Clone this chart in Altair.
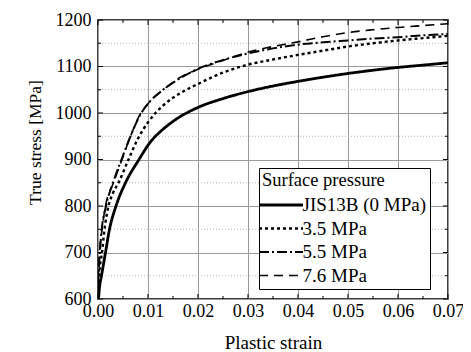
import altair as alt
import pandas as pd

# ---- data ----
series = ["JIS13B (0 MPa)", "3.5 MPa", "5.5 MPa", "7.6 MPa"]

jis_strain = [0.0001, 0.0003, 0.0007, 0.0015, 0.0023, 0.0036, 0.0055, 0.0082, 0.0105, 0.013, 0.015, 0.02,
              0.025, 0.03, 0.035, 0.04, 0.045, 0.05, 0.055, 0.06, 0.065, 0.07]
jis_stress = [600, 625, 650, 700, 750, 800, 850, 900, 938, 965, 982, 1012,
              1031, 1046, 1058, 1068, 1077, 1085, 1092, 1098, 1103, 1108]

p35_strain = [0.0, 0.0003, 0.0008, 0.0013, 0.0021, 0.003, 0.0041, 0.0061, 0.008, 0.01, 0.0115, 0.013, 0.0165,
              0.0203, 0.025, 0.03, 0.035, 0.04, 0.045, 0.05, 0.055, 0.06, 0.065, 0.07]
p35_stress = [610, 660, 700, 750, 800, 828, 850, 900, 945, 980, 1000, 1016, 1043,
              1064, 1087, 1104, 1115, 1125, 1134, 1143, 1150, 1156, 1161, 1166]

p55_strain = [0.0, 0.0003, 0.0007, 0.0016, 0.003, 0.0047, 0.0065, 0.0085, 0.01, 0.013, 0.016, 0.02,
              0.025, 0.03, 0.035, 0.04, 0.045, 0.05, 0.055, 0.06, 0.065, 0.07]
p55_stress = [630, 690, 745, 800, 850, 900, 950, 997, 1020, 1050, 1072, 1095,
              1114, 1128, 1139, 1147, 1152, 1156, 1160, 1163, 1167, 1170]

p76_strain = [0.0, 0.0003, 0.0008, 0.0015, 0.0031, 0.0048, 0.0065, 0.0083, 0.01, 0.0131, 0.016, 0.02,
              0.025, 0.03, 0.035, 0.04, 0.045, 0.05, 0.055, 0.06, 0.065, 0.07]
p76_stress = [640, 700, 750, 800, 850, 900, 950, 995, 1020, 1050, 1074, 1094,
              1113, 1131, 1143, 1153, 1164, 1173, 1179, 1184, 1188, 1192]

x_major = [0.0, 0.01, 0.02, 0.03, 0.04, 0.05, 0.06, 0.07]
x_minor = [0.005, 0.015, 0.025, 0.035, 0.045, 0.055, 0.065]
y_major = [600, 700, 800, 900, 1000, 1100, 1200]
y_minor = [650, 750, 850, 950, 1050, 1150]

# ---- build table ----
rows = []
for name, xs, ys in zip(series,
                        [jis_strain, p35_strain, p55_strain, p76_strain],
                        [jis_stress, p35_stress, p55_stress, p76_stress]):
    for i, (a, b) in enumerate(zip(xs, ys)):
        rows.append({"series": name, "strain": a, "stress": b, "order": i})
df = pd.DataFrame(rows)

W, H = 350, 279
FONT = "Liberation Serif"
xsc = alt.Scale(domain=[0, 0.07], nice=False, zero=False)
ysc = alt.Scale(domain=[600, 1200], nice=False, zero=False)

xaxis = alt.Axis(
    values=x_major, format=".2f", grid=True, gridColor="#9a9a9a", gridWidth=1,
    ticks=False, domain=False, labelFont=FONT, labelFontSize=18, labelColor="black",
    labelPadding=3, labelFlush=False, title="Plastic strain", titleFont=FONT,
    titleFontSize=19, titleFontWeight="normal", titleColor="black",
    titleY=49, titleBaseline="alphabetic")
yaxis = alt.Axis(
    values=y_major, format="d", grid=True, gridColor="#9a9a9a", gridWidth=1,
    ticks=False, domain=False, labelFont=FONT, labelFontSize=18, labelColor="black",
    labelPadding=7, labelFlush=False, title="True stress [MPa]", titleFont=FONT,
    titleFontSize=17.5, titleFontWeight="normal", titleColor="black",
    titleX=-63, titleY=122, titleBaseline="middle", titleAlign="center")

minor_grid = alt.Chart(pd.DataFrame({"v": y_minor})).mark_rule(
    color="#b5b5b5", strokeDash=[1, 2], strokeWidth=1
).encode(y=alt.Y("v:Q", scale=ysc, axis=yaxis))

legend = alt.Legend(
    title="Surface pressure", orient="none", legendX=161, legendY=148,
    fillColor="white", strokeColor="black", padding=3,
    symbolType="M-4,0H4", symbolSize=121, symbolStrokeColor="black",
    symbolFillColor="transparent", symbolOffset=9.5,
    labelFont=FONT, labelFontSize=19, titleFont=FONT, titleFontSize=18.5,
    titleFontWeight="normal", titleColor="black", labelColor="black",
    rowPadding=3.5, labelOffset=12, titlePadding=6, labelLimit=300,
)

lines = alt.Chart(df).mark_line(color="black", interpolate="monotone", clip=True).encode(
    x=alt.X("strain:Q", scale=xsc, axis=xaxis),
    y=alt.Y("stress:Q", scale=ysc, axis=yaxis),
    strokeDash=alt.StrokeDash("series:N", scale=alt.Scale(
        domain=series, range=[[1, 0], [3, 3], [10, 3, 2, 3], [9, 6]]), legend=legend),
    strokeWidth=alt.StrokeWidth("series:N", scale=alt.Scale(
        domain=series, range=[2.8, 1.6, 1.6, 1.6]), legend=legend),
    order="order:Q",
)


def xticks(vals, length, top):
    d = pd.DataFrame({"v": vals})
    if top:
        y0, y1 = 0, length
    else:
        y0, y1 = H, H - length
    return alt.Chart(d).mark_rule(color="black", strokeWidth=1).encode(
        x=alt.X("v:Q", scale=xsc, axis=xaxis), y=alt.value(y0), y2=alt.value(y1))


def yticks(vals, length, right):
    d = pd.DataFrame({"v": vals})
    if right:
        x0, x1 = W, W - length
    else:
        x0, x1 = 0, length
    return alt.Chart(d).mark_rule(color="black", strokeWidth=1).encode(
        y=alt.Y("v:Q", scale=ysc, axis=yaxis), x=alt.value(x0), x2=alt.value(x1))


chart = alt.layer(
    minor_grid,
    lines,
    xticks(x_major, 5, False), xticks(x_minor, 3, False),
    xticks(x_major, 5, True), xticks(x_minor, 3, True),
    yticks(y_major, 5, False), yticks(y_minor, 3, False),
    yticks(y_major, 5, True), yticks(y_minor, 3, True),
).properties(
    width=W, height=H, autosize="none",
    padding={"left": 90, "top": 12, "right": 15, "bottom": 55},
    background="white",
).configure_view(stroke="black", strokeWidth=1.5)

chart.save("out.html", embed_options={"renderer": "svg", "actions": False})
